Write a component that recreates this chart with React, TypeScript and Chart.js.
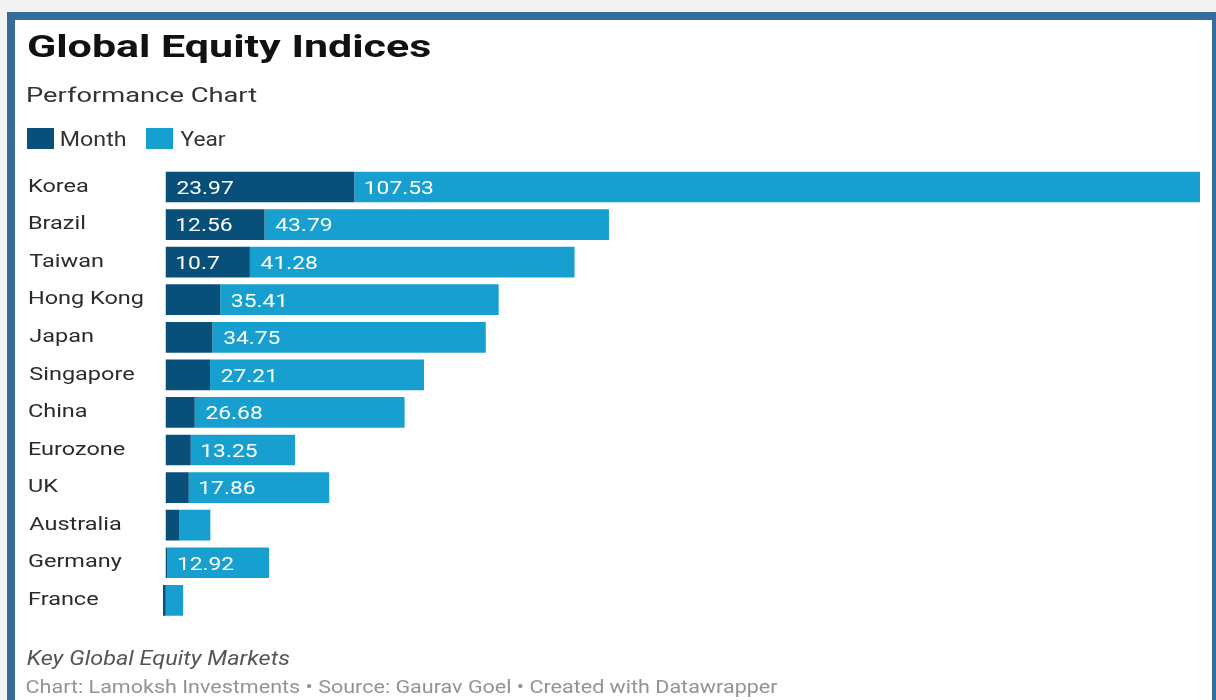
import React, { useEffect, useRef } from "react";
import { Chart, registerables } from "chart.js";

Chart.register(...registerables);

// ---------- data ----------
const countries = [
  "Korea",
  "Brazil",
  "Taiwan",
  "Hong Kong",
  "Japan",
  "Singapore",
  "China",
  "Eurozone",
  "UK",
  "Australia",
  "Germany",
  "France",
];
const monthValues = [23.97, 12.56, 10.7, 6.92, 5.94, 5.63, 3.69, 3.18, 2.93, 1.69, 0.21, -0.35];
const yearValues = [107.53, 43.79, 41.28, 35.41, 34.75, 27.21, 26.68, 13.25, 17.86, 3.98, 12.92, 2.21];
const seriesNames = ["Month", "Year"];
const titleText = "Global Equity Indices";
const subtitleText = "Performance Chart";
const notesText = "Key Global Equity Markets";
const creditsText = "Chart: Lamoksh Investments • Source: Gaurav Goel • Created with Datawrapper";

// ---------- styles ----------
const MONTH_COLOR = "#08507a";
const YEAR_COLOR = "#17a0cf";
const OX = 15; // canvas offset on page
const OY = 20;
const CW = 1197;
const CH = 680;

function inkWidth(ctx: CanvasRenderingContext2D, text: string) {
  const m = ctx.measureText(text);
  return m.actualBoundingBoxLeft + m.actualBoundingBoxRight;
}

function drawScaled(
  ctx: CanvasRenderingContext2D,
  text: string,
  font: string,
  inkLeft: number,
  baseline: number,
  s: number,
  color: string
) {
  ctx.save();
  ctx.font = font;
  ctx.textAlign = "left";
  ctx.textBaseline = "alphabetic";
  const m = ctx.measureText(text);
  ctx.translate(inkLeft + m.actualBoundingBoxLeft * s, baseline);
  ctx.scale(s, 1);
  ctx.fillStyle = color;
  ctx.fillText(text, 0, 0);
  ctx.restore();
}

function drawFit(
  ctx: CanvasRenderingContext2D,
  text: string,
  font: string,
  inkLeft: number,
  baseline: number,
  targetW: number,
  color: string
) {
  ctx.save();
  ctx.font = font;
  const s = targetW / inkWidth(ctx, text);
  ctx.restore();
  drawScaled(ctx, text, font, inkLeft, baseline, s, color);
}

const textPlugin = {
  id: "dwText",
  afterDraw(chart: any) {
    const ctx: CanvasRenderingContext2D = chart.ctx;
    // header
    drawFit(ctx, titleText, "bold 32px Roboto", 28.3 - OX, 56.7 - OY, 402.4, "#111111");
    drawFit(ctx, subtitleText, "21px Roboto", 27.3 - OX, 102.3 - OY, 230, "#333333");
    // legend
    const ds = chart.data.datasets;
    ctx.fillStyle = ds[0].backgroundColor;
    ctx.fillRect(27 - OX, 128 - OY, 27, 21);
    ctx.fillStyle = ds[1].backgroundColor;
    ctx.fillRect(146 - OX, 128 - OY, 27, 21);
    drawFit(ctx, ds[0].label, "19.5px Roboto", 61 - OX, 145.7 - OY, 64.7, "#333333");
    drawFit(ctx, ds[1].label, "19.5px Roboto", 180.5 - OX, 145.7 - OY, 45.5, "#333333");
    // footer
    drawFit(ctx, notesText, "italic 21px Roboto", 26.7 - OX, 665 - OY, 262.6, "#555555");
    drawFit(ctx, creditsText, "18.7px Roboto", 26.7 - OX, 693.3 - OY, 751.6, "#939393");

    // category labels
    const labelFont = "17.5px Roboto";
    ctx.save();
    ctx.font = labelFont;
    const ls =
      (115 + 103.4 + 95.7) /
      (inkWidth(ctx, "Hong Kong") + inkWidth(ctx, "Singapore") + inkWidth(ctx, "Eurozone"));
    ctx.restore();
    const yScale = chart.scales.y;
    chart.data.labels.forEach((lab: string, i: number) => {
      const cy = yScale.getPixelForTick(i);
      drawScaled(ctx, lab, labelFont, 29.3 - OX, cy + 4.7, ls, "#2b2b2b");
    });

    // value labels
    const valFont = "19px Roboto";
    ctx.save();
    ctx.font = valFont;
    const vs =
      (68.3 + 55 + 57.7) /
      (inkWidth(ctx, "107.53") + inkWidth(ctx, "23.97") + inkWidth(ctx, "43.79"));
    ctx.restore();
    ds.forEach((d: any, di: number) => {
      const meta = chart.getDatasetMeta(di);
      meta.data.forEach((el: any, j: number) => {
        const v = d.data[j];
        if (v <= 0) return;
        const p = el.getProps(["x", "base", "y"], true);
        const left = Math.min(p.x, p.base);
        const w = Math.abs(p.x - p.base);
        const txt = String(v);
        ctx.save();
        ctx.font = valFont;
        const tw = inkWidth(ctx, txt) * vs;
        ctx.restore();
        if (w < tw + 21) return;
        drawScaled(ctx, txt, valFont, left + 10.7, p.y + 6.8, vs, "#ffffff");
      });
    });
  },
};

export default function App() {
  const ref = useRef<HTMLCanvasElement | null>(null);

  useEffect(() => {
    if (!ref.current) return;
    const chart = new Chart(ref.current, {
      type: "bar",
      data: {
        labels: countries,
        datasets: [
          {
            label: seriesNames[0],
            data: monthValues,
            backgroundColor: MONTH_COLOR,
            borderWidth: 0,
            barPercentage: 0.817,
            categoryPercentage: 1,
          },
          {
            label: seriesNames[1],
            data: yearValues,
            backgroundColor: YEAR_COLOR,
            borderWidth: 0,
            barPercentage: 0.817,
            categoryPercentage: 1,
          },
        ],
      },
      options: {
        indexAxis: "y",
        responsive: false,
        animation: false,
        events: [],
        layout: {
          padding: {
            left: 162.6 - OX,
            right: CW - (1200 - OX),
            top: 168.2 - OY,
            bottom: CH - (619.1 - OY),
          },
        },
        scales: {
          x: { display: false, stacked: true, min: -0.4, max: 131.5 },
          y: { display: false, stacked: true },
        },
        plugins: {
          legend: { display: false },
          tooltip: { enabled: false },
          title: { display: false },
        },
      },
      plugins: [textPlugin],
    } as any);
    return () => chart.destroy();
  }, []);

  return (
    <div
      style={{
        position: "fixed",
        inset: 0,
        background: "#f3f3f3",
        overflow: "hidden",
      }}
    >
      <div
        style={{
          position: "absolute",
          left: 7,
          top: 12,
          width: CW,
          height: 760,
          border: "8px solid #366b9b",
          background: "#ffffff",
        }}
      >
        <canvas ref={ref} width={CW} height={CH} style={{ display: "block" }} />
      </div>
    </div>
  );
}
